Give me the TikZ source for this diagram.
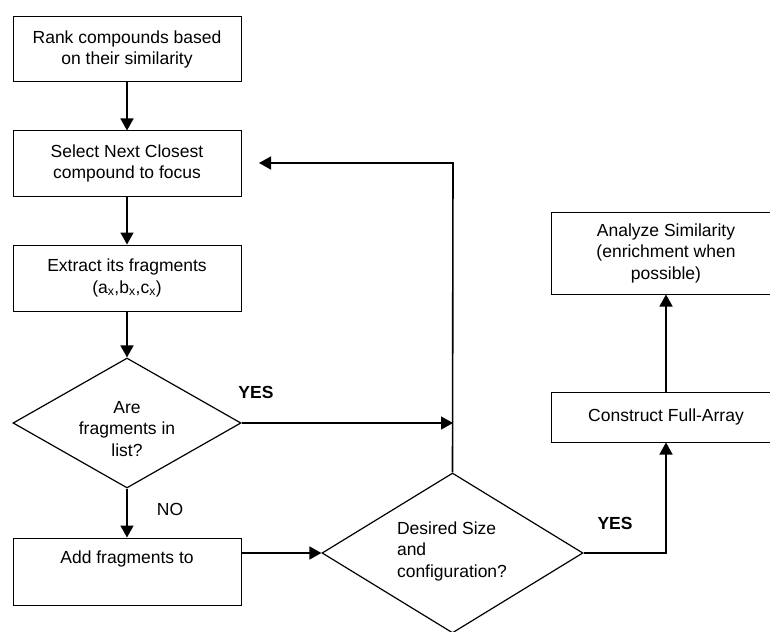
\documentclass[tikz,border=0pt]{standalone}
\usepackage{fontspec}
\setmainfont{Liberation Sans}
\usetikzlibrary{shapes.geometric,arrows.meta}
\begin{document}
\begin{tikzpicture}[x=1pt,y=-1pt,
  font=\fontsize{17.5pt}{21.5pt}\selectfont,
  box/.style={draw, line width=1pt, rectangle, inner sep=0pt, align=center},
  dia/.style={draw, line width=1.2pt, diamond, inner sep=0pt},
  conn/.style={line width=1.6pt},
  arr/.style={conn, -{Triangle[length=12pt,width=13pt]}},
  lbl/.style={inner sep=0pt}
]
\useasboundingbox (0,0) rectangle (770,631);

\node[box, minimum width=228pt, minimum height=65pt] (b1) at (127,49.5) {Rank compounds based\\on their similarity};
\node[box, minimum width=228pt, minimum height=65pt] (b2) at (127,163.5) {Select Next Closest\\compound to focus};
\node[box, minimum width=228pt, minimum height=66pt] (b3) at (127,278) {Extract its fragments\\(a\textsubscript{x},b\textsubscript{x},c\textsubscript{x})};
\node[dia, minimum width=228pt, minimum height=130pt] (d1) at (127,423) {};
\node[lbl, align=center] (d1t) at (127,429) {Are\\fragments in\\list?};
\node[box, minimum width=228pt, minimum height=67pt] (b4) at (127,571.5) {};
\node[lbl] (b4t) at (127,559) {Add fragments to};

\node[dia, minimum width=261pt, minimum height=160pt] (d2) at (452.5,553) {};
\node[lbl, align=left] (d2t) at (452,551) {Desired Size\\and\\configuration?};

\node[box, minimum width=230pt, minimum height=50pt] (b5) at (666,417) {Construct Full-Array};
\node[box, minimum width=230pt, minimum height=82pt] (b6) at (666,253) {Analyze Similarity\\(enrichment when\\possible)};

\coordinate (fbtip) at (259,163);
\coordinate (fbcorner) at (453,163);
\coordinate (yesend) at (453,423);

\draw[arr] (b1) -- (b2);
\draw[arr] (b2) -- (b3);
\draw[arr] (b3) -- (d1.north);
\draw[arr] (d1.south) -- (b4);
\draw[arr] (d1.east) -- (yesend);
\draw[arr] (d2.north) -- (fbcorner) -- (fbtip);
\draw[arr] (d2.west -| b4.east) -- (d2.west);
\draw[arr] (d2.east) -| (b5.south);
\draw[arr] (b5.north) -- (b6.south);

\node[lbl, font=\fontsize{17.5pt}{21.5pt}\selectfont\bfseries] (yes1) at (256,392) {YES};
\node[lbl, font=\fontsize{17.5pt}{21.5pt}\selectfont\bfseries] (yes2) at (615,523) {YES};
\node[lbl] (no1) at (170,509) {NO};
\end{tikzpicture}
\end{document}
